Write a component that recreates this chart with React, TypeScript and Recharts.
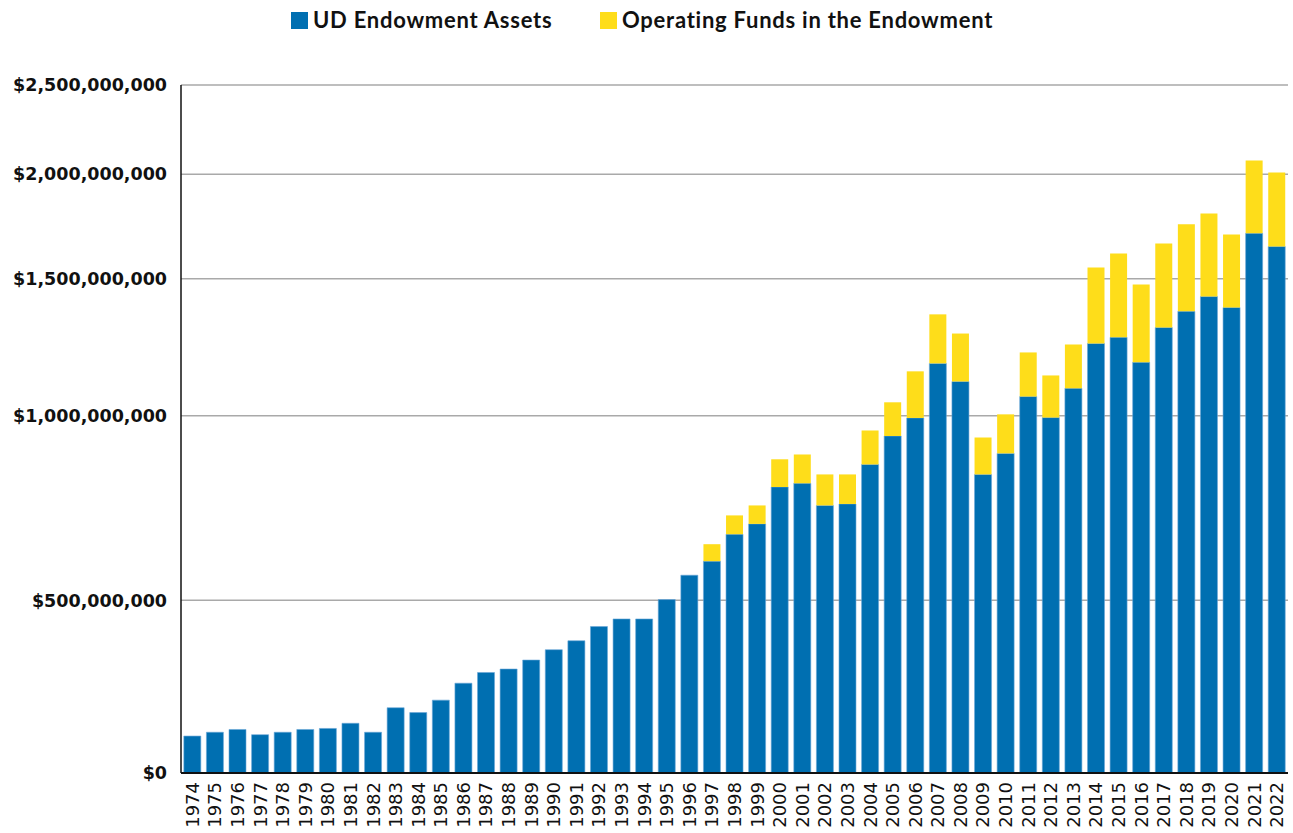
import { BarChart, Bar, XAxis, YAxis, CartesianGrid } from 'recharts'

// values in millions of dollars
const years = [
  '1974', '1975', '1976', '1977', '1978', '1979', '1980', '1981', '1982', '1983',
  '1984', '1985', '1986', '1987', '1988', '1989', '1990', '1991', '1992', '1993',
  '1994', '1995', '1996', '1997', '1998', '1999', '2000', '2001', '2002', '2003',
  '2004', '2005', '2006', '2007', '2008', '2009', '2010', '2011', '2012', '2013',
  '2014', '2015', '2016', '2017', '2018', '2019', '2020', '2021', '2022',
]
const endowmentAssets = [
  107, 118, 126, 111, 118, 126, 129, 144, 118, 189,
  175, 211, 260, 291, 301, 327, 357, 383, 424, 446,
  446, 502, 568, 606, 679, 707, 807, 817, 757, 761,
  868, 945, 994, 1191, 1125, 841, 898, 1070, 995, 1100,
  1264, 1286, 1195, 1322, 1381, 1435, 1395, 1717, 1654,
]
const operatingFunds = [
  0, 0, 0, 0, 0, 0, 0, 0, 0, 0,
  0, 0, 0, 0, 0, 0, 0, 0, 0, 0,
  0, 0, 0, 46, 51, 50, 75, 78, 84, 80,
  92, 104, 168, 179, 175, 100, 107, 161, 152, 160,
  290, 335, 284, 347, 379, 377, 317, 360, 356,
]
const yTicks = [0, 500, 1000, 1500, 2000, 2500]
// where each tick sits along the axis (0 = bottom, 1 = top); the source axis is not linear
const yTickPos = [0, 0.251, 0.5193, 0.7184, 0.8704, 1]

const BLUE = '#006fb1'
const YELLOW = '#fedd1a'

const data = years.map((year, i) => ({ year, assets: endowmentAssets[i], operating: operatingFunds[i] }))

// piecewise scale through the tick knots, shaped like a d3 scale so recharts can use it
function knotScale(dom: number[] = [0, 2500], rng: number[] = [0, 1]): any {
  let d = dom.slice()
  let r = rng.slice()
  const frac = (v: number) => {
    const n = yTicks.length
    let i = 1
    while (i < n - 1 && v > yTicks[i]) i++
    const t = (v - yTicks[i - 1]) / (yTicks[i] - yTicks[i - 1])
    return yTickPos[i - 1] + t * (yTickPos[i] - yTickPos[i - 1])
  }
  const scale: any = (v: number) => r[0] + frac(Number(v)) * (r[1] - r[0])
  scale.domain = (x?: number[]) => {
    if (x === undefined) return d.slice()
    d = x.map(Number)
    return scale
  }
  scale.range = (x?: number[]) => {
    if (x === undefined) return r.slice()
    r = x.slice()
    return scale
  }
  scale.copy = () => knotScale(d, r)
  scale.ticks = () => yTicks.slice()
  scale.invert = (px: number) => {
    const f = (px - r[0]) / (r[1] - r[0])
    let i = 1
    while (i < yTicks.length - 1 && f > yTickPos[i]) i++
    const t = (f - yTickPos[i - 1]) / (yTickPos[i] - yTickPos[i - 1])
    return yTicks[i - 1] + t * (yTicks[i] - yTicks[i - 1])
  }
  return scale
}

const fmtMoney = (v: number) => '$' + (v * 1000000).toLocaleString('en-US')

function YearTick({ x, y, payload }: any) {
  return (
    <text
      transform={`translate(${x},${y}) rotate(-90)`}
      textAnchor="end"
      dy="0.36em"
      fontFamily="DejaVu Sans"
      fontSize={18}
      fill="#111"
    >
      {payload.value}
    </text>
  )
}

function LegendItem({ color, label, left }: { color: string; label: string; left: number }) {
  return (
    <div style={{ position: 'absolute', left, top: 9, display: 'flex', alignItems: 'center' }}>
      <span style={{ width: 17, height: 17, background: color, marginRight: 5 }} />
      <span style={{ fontFamily: 'Lato', fontWeight: 700, fontSize: 22, letterSpacing: 0.75, color: '#111', lineHeight: '22px' }}>
        {label}
      </span>
    </div>
  )
}

export default function App() {
  return (
    <div style={{ position: 'absolute', left: 0, top: 0, width: 1293, height: 833, background: '#fff' }}>
      <LegendItem color={BLUE} label="UD Endowment Assets" left={291} />
      <LegendItem color={YELLOW} label="Operating Funds in the Endowment" left={600} />
      <BarChart
        width={1293}
        height={833}
        data={data}
        margin={{ top: 85, right: 5, left: 0, bottom: 0 }}
        barCategoryGap="12.5%"
      >
        <CartesianGrid vertical={false} stroke="#a9a9a9" strokeWidth={1.5} />
        <XAxis
          dataKey="year"
          height={60}
          interval={0}
          tickLine={false}
          tickSize={0}
          tickMargin={9}
          axisLine={{ stroke: '#111', strokeWidth: 2 }}
          tick={<YearTick />}
        />
        <XAxis xAxisId="top" orientation="top" dataKey="year" height={0} tick={false} tickLine={false} axisLine={{ stroke: '#111', strokeWidth: 1.5 }} />
        <YAxis
          width={181}
          domain={[0, 2500]}
          ticks={yTicks}
          scale={knotScale()}
          interval={0}
          tickLine={false}
          tickSize={0}
          tickMargin={14}
          axisLine={{ stroke: '#111', strokeWidth: 1.5 }}
          tickFormatter={fmtMoney}
          tick={{ fontFamily: 'DejaVu Sans', fontWeight: 700, fontSize: 17.5, fill: '#111' }}
        />
        <YAxis yAxisId="right" orientation="right" width={0} tick={false} tickLine={false} axisLine={{ stroke: '#111', strokeWidth: 1.5 }} />
        <Bar dataKey="assets" stackId="a" fill={BLUE} stroke="#6aa6d6" strokeWidth={0.6} isAnimationActive={false} />
        <Bar dataKey="operating" stackId="a" fill={YELLOW} isAnimationActive={false} />
      </BarChart>
    </div>
  )
}
